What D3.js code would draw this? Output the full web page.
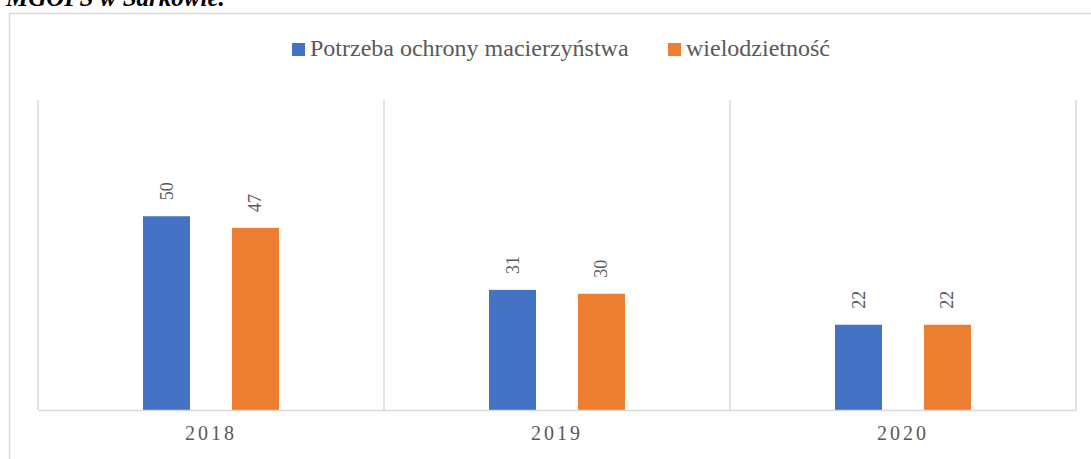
<!DOCTYPE html>
<html>
<head>
<meta charset="utf-8">
<script src="https://cdn.jsdelivr.net/npm/d3@7"></script>
<style>
  body { margin: 0; background: #fff; }
  svg { display: block; }
  svg text { font-family: "Liberation Serif", "Times New Roman", Times, "DejaVu Serif", serif; }
</style>
</head>
<body>
<svg id="chart" width="1091" height="459"></svg>
<script>
const years = ["2018", "2019", "2020"];
const seriesNames = ["Potrzeba ochrony macierzyństwa", "wielodzietność"];
const protectionValues = [50, 31, 22];
const largeFamilyValues = [47, 30, 22];
const colors = ["#4472C4", "#ED7D31"];

const svg = d3.select("#chart");
const margin = { top: 100, right: 15, bottom: 49, left: 38 };
const width = 1091;
const height = 459;

// chart frame, bleeds off the right and bottom like the source
svg.append("rect")
  .attr("x", 9.5).attr("y", 13.5)
  .attr("width", 1100).attr("height", 470)
  .attr("fill", "none").attr("stroke", "#d9d9d9").attr("stroke-width", 1.5);

// caption cut off at the top
svg.append("text")
  .attr("x", 6).attr("y", 6)
  .attr("font-size", 25).attr("font-weight", "bold").attr("font-style", "italic")
  .attr("fill", "#000")
  .text("MGOPS w Sarkowie.");

const x = d3.scaleBand()
  .domain(years)
  .range([margin.left, width - margin.right]);

const xInner = d3.scaleBand()
  .domain(seriesNames)
  .range([0, x.bandwidth()])
  .paddingInner(0.472)
  .paddingOuter(1.18);

const y = d3.scaleLinear()
  .domain([0, 80])
  .range([height - margin.bottom, margin.top]);

// separators between categories
svg.append("g")
  .selectAll("line")
  .data(years.concat(["end"]))
  .join("line")
  .attr("x1", (d, i) => i < years.length ? x(d) : width - margin.right)
  .attr("x2", (d, i) => i < years.length ? x(d) : width - margin.right)
  .attr("y1", margin.top)
  .attr("y2", y(0))
  .attr("stroke", "#d9d9d9")
  .attr("stroke-width", 1.5);

const rows = years.map((yr, i) => ({
  year: yr,
  values: [protectionValues[i], largeFamilyValues[i]]
}));

const groups = svg.append("g")
  .selectAll("g")
  .data(rows)
  .join("g")
  .attr("transform", d => `translate(${x(d.year)},0)`);

groups.selectAll("rect")
  .data(d => d.values.map((v, j) => ({ name: seriesNames[j], value: v, color: colors[j] })))
  .join("rect")
  .attr("x", d => xInner(d.name))
  .attr("y", d => y(d.value))
  .attr("width", xInner.bandwidth())
  .attr("height", d => y(0) - y(d.value))
  .attr("fill", d => d.color);

groups.selectAll("text")
  .data(d => d.values.map((v, j) => ({ name: seriesNames[j], value: v })))
  .join("text")
  .attr("transform", d => `translate(${xInner(d.name) + xInner.bandwidth() / 2 + 6},${y(d.value) - 16}) rotate(-90)`)
  .attr("font-size", 18)
  .attr("fill", "#595959")
  .text(d => d.value);

// baseline axis
const xAxis = svg.append("g")
  .attr("transform", `translate(0,${y(0)})`)
  .call(d3.axisBottom(x).tickSize(0).tickPadding(16));
xAxis.select(".domain").attr("stroke", "#d9d9d9").attr("stroke-width", 1.5);
xAxis.selectAll("text")
  .attr("font-family", null)
  .attr("font-size", 20)
  .attr("letter-spacing", 3)
  .attr("fill", "#595959");

// legend
const legendItems = [
  { name: seriesNames[0], color: colors[0], x: 292 },
  { name: seriesNames[1], color: colors[1], x: 668 }
];
const legend = svg.append("g")
  .selectAll("g")
  .data(legendItems)
  .join("g")
  .attr("transform", d => `translate(${d.x},43)`);
legend.append("rect")
  .attr("width", 13).attr("height", 13)
  .attr("fill", d => d.color);
legend.append("text")
  .attr("x", 18).attr("y", 13)
  .attr("font-size", 24)
  .attr("fill", "#595959")
  .text(d => d.name);
</script>
</body>
</html>
